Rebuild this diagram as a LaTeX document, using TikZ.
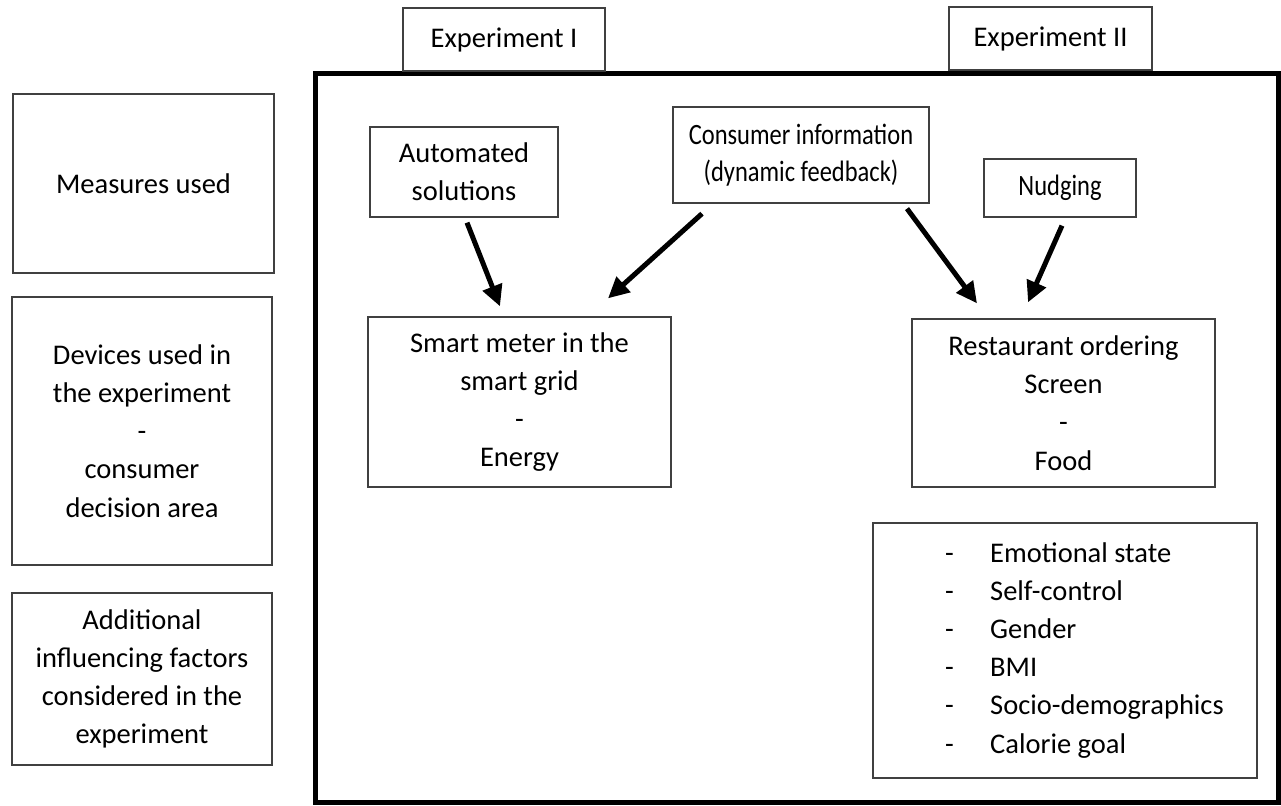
\documentclass[tikz,border=0pt]{standalone}
\usepackage{fontspec}
\setmainfont{Carlito}
\newfontfamily\narrowfont[FakeStretch=0.83]{Carlito}
\usetikzlibrary{arrows.meta,calc}

\tikzset{
  box/.style={draw=black!75, line width=1.3pt, inner sep=0pt, align=center},
  frame/.style={draw=black, line width=5pt, inner sep=0pt},
  arr/.style={draw=black, line width=5pt, -{Triangle[length=21pt,width=20pt]}},
}

\begin{document}
\begin{tikzpicture}[x=1pt, y=-1pt, font=\fontsize{28.5pt}{38.2pt}\selectfont]
\useasboundingbox (0,0) rectangle (1281,805);

% outer frame holding both experiments
\node[frame, minimum width=963pt, minimum height=728.5pt] (frame) at (796.75,437.75) {};

% experiment labels on top of the frame
\node[box, minimum width=202pt, minimum height=63pt] (exp1) at (504,39.5) {Experiment I};
\node[box, minimum width=203pt, minimum height=63pt] (exp2) at (1050.5,38.5) {Experiment II};

% row legend on the left
\node[box, minimum width=261pt, minimum height=179pt] (measures) at (143.5,183.5) {Measures used};
\node[box, minimum width=260pt, minimum height=268pt] (devices) at (142,431)
  {Devices used in\\the experiment\\-\\consumer\\decision area};
\node[box, minimum width=260pt, minimum height=172pt] (addl) at (142,679)
  {Additional\\influencing factors\\considered in the\\experiment};

% measures
\node[box, minimum width=188pt, minimum height=90pt] (auto) at (464,172) {Automated\\solutions};
\node[box, minimum width=256pt, minimum height=96pt,
      font=\fontsize{29.5pt}{37.5pt}\narrowfont] (cons) at (801,155)
  {Consumer information\\(dynamic feedback)};
\node[box, minimum width=152pt, minimum height=58pt,
      font=\fontsize{29.5pt}{37.5pt}\narrowfont] (nudge) at (1060,188) {Nudging};

% devices / decision areas
\node[box, minimum width=303pt, minimum height=170pt] (smart) at (519.5,402)
  {Smart meter in the\\smart grid\\-\\Energy};
\node[box, minimum width=303pt, minimum height=168pt] (rest) at (1063.5,403)
  {Restaurant ordering\\Screen\\-\\Food};

% additional influencing factors
\node[box, minimum width=384pt, minimum height=255pt] (factors) at (1065,650.5) {};
\node[anchor=base west, inner sep=0pt] (flist) at (945,562)
  {\begin{tabular}[t]{@{}l@{}l@{}}
   \makebox[45pt][l]{-} & Emotional state\\
   \makebox[45pt][l]{-} & Self-control\\
   \makebox[45pt][l]{-} & Gender\\
   \makebox[45pt][l]{-} & BMI\\
   \makebox[45pt][l]{-} & Socio-demographics\\
   \makebox[45pt][l]{-} & Calorie goal
   \end{tabular}};

% connectors
\draw[arr] ($(auto.south)+(3,5)$) -- ($(smart.north)+(-19.5,-10)$);
\draw[arr] ($(cons.south)+(-99,10)$) -- ($(smart.north)+(88.5,-18)$);
\draw[arr] ($(cons.south)+(106,5)$) -- ($(rest.north)+(-86.5,-15)$);
\draw[arr] ($(nudge.south)+(2,8)$) -- ($(rest.north)+(-35.5,-16)$);
\end{tikzpicture}
\end{document}
